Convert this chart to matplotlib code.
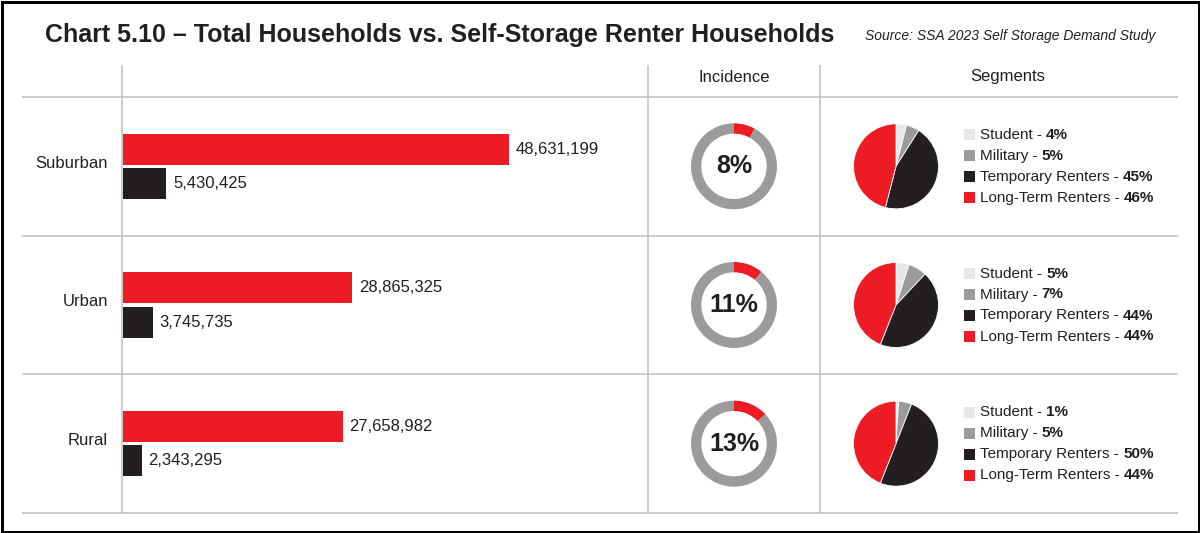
import matplotlib
matplotlib.use('Agg')
from matplotlib import pyplot as plt
from matplotlib.patches import Rectangle

# data
regions = ['Suburban', 'Urban', 'Rural']
total_households = [48631199, 28865325, 27658982]
renter_households = [5430425, 3745735, 2343295]
incidence = [8, 11, 13]
segment_names = ['Student', 'Military', 'Temporary Renters', 'Long-Term Renters']
segment_pcts = [
    [4, 5, 45, 46],
    [5, 7, 44, 44],
    [1, 5, 50, 44],
]

RED = '#ED1C24'
BLACK = '#231F20'
GRAY = '#9B9B9B'
LIGHT = '#E6E7E8'
LINE = '#BDBDBD'
seg_colors = [LIGHT, GRAY, BLACK, RED]

plt.rcParams['font.family'] = ['Liberation Sans', 'DejaVu Sans']

W, H = 1200, 533
fig = plt.figure(figsize=(W / 100, H / 100), dpi=100)


def box(x0, y0, x1, y1):
    # pixel box (y from top) -> figure fraction rect
    return [x0 / W, 1 - y1 / H, (x1 - x0) / W, (y1 - y0) / H]


bg = fig.add_axes([0, 0, 1, 1])
bg.set_xlim(0, W)
bg.set_ylim(H, 0)
bg.axis('off')

px = 72 / 100
bg.add_patch(Rectangle((1.5, 1.5), W - 3, H - 3, fill=False, ec='black', lw=3 * px))

bg.text(45, 35, 'Chart 5.10 \u2013 Total Households vs. Self-Storage Renter Households',
        weight='bold', fontsize=18, va='center', ha='left', color=BLACK)
bg.text(1155, 36, 'Source: SSA 2023 Self Storage Demand Study',
        style='italic', fontsize=10, va='center', ha='right', color=BLACK)

row_top = 97
row_h = (513 - 97) / 3
for y in [97, 97 + row_h, 97 + 2 * row_h, 513]:
    bg.plot([22, 1178], [y, y], color=LINE, lw=1.5 * px, solid_capstyle='butt')
for x in [122, 648, 820]:
    bg.plot([x, x], [65, 513], color=LINE, lw=1.5 * px, solid_capstyle='butt')

bg.text(734, 77, 'Incidence', fontsize=12, ha='center', va='center', color=BLACK)
bg.text(1008, 77, 'Segments', fontsize=12, ha='center', va='center', color=BLACK)

# bars
bar_ax = fig.add_axes(box(123, 97, 648, 513))
bar_ax.set_xlim(0, 525 / 7.94 * 1e6)
bar_ax.set_ylim(2.5, -0.5)
bar_ax.axis('off')
ypos = list(range(len(regions)))
bar_ax.barh([y - 0.123 for y in ypos], total_households, height=0.224, color=RED)
bar_ax.barh([y + 0.123 for y in ypos], renter_households, height=0.224, color=BLACK)
for y, t, r in zip(ypos, total_households, renter_households):
    bar_ax.annotate(f'{t:,}', (t, y - 0.123), xytext=(5, 0), textcoords='offset points',
                    va='center', ha='left', fontsize=12, color=BLACK)
    bar_ax.annotate(f'{r:,}', (r, y + 0.123), xytext=(5, 0), textcoords='offset points',
                    va='center', ha='left', fontsize=12, color=BLACK)

for i, (name, inc, pcts) in enumerate(zip(regions, incidence, segment_pcts)):
    cy = row_top + row_h * (i + 0.5)
    bg.text(108, cy - 3, name, fontsize=12, ha='right', va='center', color=BLACK)

    # incidence donut
    r = 43
    dax = fig.add_axes(box(734 - r, cy - r, 734 + r, cy + r))
    dax.pie([inc, 100 - inc], colors=[RED, GRAY], startangle=90, counterclock=False,
            radius=1, wedgeprops=dict(width=0.24, linewidth=0))
    dax.set_xlim(-1, 1)
    dax.set_ylim(-1, 1)
    dax.text(0, 0, f'{inc}%', weight='bold', fontsize=18,
             ha='center', va='center', color=BLACK)

    # segments pie
    r = 42.5
    pax = fig.add_axes(box(896 - r, cy - r, 896 + r, cy + r))
    pax.pie(pcts, colors=seg_colors, startangle=90, counterclock=False, radius=1,
            wedgeprops=dict(edgecolor='white', linewidth=0.6))
    pax.set_xlim(-1, 1)
    pax.set_ylim(-1, 1)

    for k, (seg, p, c) in enumerate(zip(segment_names, pcts, seg_colors)):
        ly = cy + (k - 1.5) * 21
        bg.add_patch(Rectangle((964, ly - 5.5), 11, 11, color=c, lw=0))
        t = bg.text(980, ly, f'{seg} - ', fontsize=11, ha='left', va='center', color=BLACK)
        bg.annotate(f'{p}%', xy=(1, 0), xycoords=t, ha='left', va='bottom',
                    fontsize=11, weight='bold', color=BLACK)

fig.savefig('out.png', dpi=100)
